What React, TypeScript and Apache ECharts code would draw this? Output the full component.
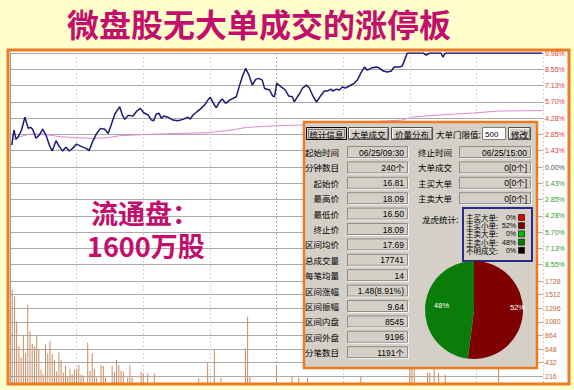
import React, { useEffect, useRef } from 'react';
import * as echarts from 'echarts';

// ---------- data ----------
const TITLE = '微盘股无大单成交的涨停板';
const FLOAT_LINE1 = '流通盘：';
const FLOAT_LINE2 = '1600万股';

const priceLimit = 9.98; // % limit, axis range ±
const minutesTotal = 240;
const minuteStep = 30;

// [minute, % change]
const pricePoints: number[][] = [
  [0.8, 1.92], [1.8, 3.24], [2.7, 2.42], [3.7, 2.65], [5.2, 3.24], [6.7, 4.35], [8.2, 3.38], [9.3, 3.47],
  [10.2, 3.3], [11.7, 2.51], [13.2, 2.8], [14.7, 3.32], [16.2, 2.8], [17.7, 1.92], [19, 1.4], [20.7, 2.3],
  [22.2, 1.78], [23.7, 1.4], [25.2, 1.72], [26.7, 1.4], [28.2, 1.63], [30, 2.01], [32.2, 1.78], [34.2, 1.63],
  [35.6, 1.43], [37.2, 2.22], [39, 2.94], [40.8, 3.38], [42.7, 3.3], [44.2, 2.94], [45.4, 3.59], [47.2, 4.64],
  [49.4, 5.28], [50.6, 4.55], [51.7, 4.17], [53.2, 4.52], [55.4, 4.46], [57.2, 4.92], [58.7, 5.13], [60.2, 4.75],
  [62.2, 4.55], [63.7, 4.11], [64.7, 4.05], [65.9, 4.64], [67.1, 4.7], [68.2, 4.26], [69.2, 4.46], [71.2, 4.35],
  [73.4, 4.11], [75.6, 4.05], [77.9, 4.17], [80.1, 4.35], [81.2, 4.2], [82.4, 4.55], [84.2, 4.84], [86.1, 5.13],
  [87.6, 5.42], [89.1, 5.86], [90.2, 6.1], [91.4, 5.63], [92.9, 5.19], [94.4, 5.71], [95.6, 5.95], [97.1, 5.57],
  [98.9, 5.86], [101.9, 6.15], [103.1, 6.97], [104.6, 7.9], [106.1, 8.63], [107.6, 8.05], [109.1, 7.17], [110.6, 7.67],
  [112, 7.76], [113.6, 7.61], [114.6, 6.88], [116.9, 6.74], [118.3, 6.21], [119.1, 6.15], [120.1, 7.32], [122.1, 7.02],
  [124, 6.74], [125.5, 6.21], [127.1, 6.15], [128, 5.71], [129.6, 6.21], [130.3, 6.39], [131.7, 6.91], [133.5, 7.17],
  [134.8, 6.91], [136.2, 6.3], [138, 5.69], [139.8, 6.21], [141.6, 6.65], [142.9, 6.65], [144.7, 6.82], [145.2, 6.65],
  [147, 6.82], [148.3, 6.74], [149.7, 7.0], [151, 6.91], [152.8, 7.09], [155.1, 7.35], [156.4, 7.61], [158.2, 8.31],
  [159.6, 8.75], [160.9, 8.48], [162.7, 8.66], [164.9, 8.75], [166.3, 8.66], [168.1, 8.4], [169.9, 8.31], [171.7, 8.4],
  [173, 8.75], [175.3, 8.75], [176.6, 8.83], [178, 9.53], [178.9, 9.98], [186, 9.98], [187.4, 9.8], [189, 9.98],
  [194, 9.98], [195, 9.62], [196, 9.98], [239.6, 9.98],
];

// [minute, % change] average price line
const avgPoints: number[][] = [
  [0.8, 2.36], [4.5, 2.65], [9, 2.89], [14.8, 2.89], [22.5, 2.65], [30.1, 2.56], [37.3, 2.51], [43.6, 2.56],
  [49.4, 2.74], [62.9, 2.86], [77.8, 2.95], [88.5, 3.0], [100.2, 3.24], [106.5, 3.47], [120, 3.61], [130.3, 3.67],
  [152.8, 3.85], [176.6, 4.11], [181.1, 4.37], [193.3, 4.55], [208.1, 4.72], [220.2, 4.9], [239.6, 4.94],
];

// [minute, volume]
const volumePoints: number[][] = [
  [1, 1590], [2, 1483], [3, 1086], [4, 688], [5, 520], [6, 872], [7, 581], [8, 1345], [9, 933], [10, 734],
  [11, 688], [12, 872], [13, 642], [14, 321], [15, 245], [16, 734], [17, 581], [18, 780], [19, 566], [20, 474],
  [21, 290], [22, 596], [23, 474], [24, 275], [25, 382], [26, 214], [27, 336], [28, 245], [29, 321], [30, 336],
  [31, 397], [32, 245], [33, 229], [35, 750], [36, 306], [37, 581], [38, 336], [39, 199], [41, 397], [42, 382],
  [43, 199], [46, 382], [47, 290], [48, 474], [49, 397], [50, 306], [51, 290], [53, 199], [54, 397], [55, 199],
  [59, 290], [60, 260], [62, 260], [65, 260], [85, 190], [89, 428], [92, 642], [95, 190], [106, 657], [107, 1162],
  [108, 205], [120, 382], [127, 214], [130, 200], [134, 195], [158, 214], [180, 600], [181, 620], [182, 520],
  [188, 275], [189, 275], [191, 500], [193, 275], [196, 245], [220, 450],
];
const volumeMax = 1728;
const volumeStep = 216;

// statistics panel
const tabLabels = ['统计信息', '大单成交', '价量分布'];
const thresholdLabel = '大单门限值:';
const thresholdValue = '500';
const modifyLabel = '修改';
const leftLabels = ['起始时间', '分钟数目', '起始价', '最高价', '最低价', '终止价', '区间均价', '总成交量', '每笔均量', '区间涨幅', '区间振幅', '区间内盘', '区间外盘', '分笔数目'];
const leftValues = ['06/25/09:30', '240个', '16.81', '18.09', '16.50', '18.09', '17.69', '17741', '14', '1.48(8.91%)', '9.64', '8545', '9196', '1191个'];
const rightLabels = ['终止时间', '大单成交', '主买大单', '主卖大单'];
const rightValues = ['06/25/15:00', '0[0个]', '0[0个]', '0[0个]'];
const dragonLabel = '龙虎统计:';
const flowLabels = ['主买大单', '主买小单', '主卖大单', '主卖小单', '不明成交'];
const flowPct = [0, 52, 0, 48, 0];

// ---------- styles ----------
const YELLOW = '#FFFFCC';
const ORANGE = '#F07A1E';
const CRIMSON = '#C40E6C';
const PANEL = '#D4D0C8';
const flowColors = ['#E00000', '#7E0000', '#00C000', '#0A7C0A', '#000000'];
const CJK = '"Noto Sans CJK SC"';
const NUM = '"Liberation Sans", "Noto Sans CJK SC"';

const PZ = 50;
function rect(x: number, y: number, w: number, h: number, style: any, z = PZ) {
  return { type: 'rect', z, silent: true, shape: { x, y, width: w, height: h }, style };
}
function seg(x1: number, y1: number, x2: number, y2: number, stroke: string, z = PZ + 1, lineWidth = 1) {
  return { type: 'line', z, silent: true, shape: { x1, y1, x2, y2 }, style: { stroke, lineWidth } };
}
function txt(text: string, x: number, y: number, font: string, fill: string, align = 'left', z = PZ + 2, lineHeight?: number, vAlign = 'middle') {
  const style: any = { text, x, y, font, fill, textAlign: align, align, textVerticalAlign: vAlign, verticalAlign: vAlign };
  if (lineHeight) style.lineHeight = lineHeight;
  return { type: 'text', z, silent: true, style };
}

function buildPanel(): any[] {
  const els: any[] = [];
  const labelFont = `8.5px ${CJK}`;
  const valueFont = `8.5px ${NUM}`;
  els.push(rect(304, 122, 233, 246, { fill: PANEL, stroke: ORANGE, lineWidth: 2.5 }));

  const button = (x: number, y: number, w: number, h: number, label: string, active: boolean) => {
    els.push(rect(x + 0.5, y + 0.5, w, h, { fill: PANEL, stroke: active ? '#000' : '#505050', lineWidth: 1 }));
    if (active) {
      els.push(rect(x + 2.5, y + 2.5, w - 4, h - 4, { fill: 'none', stroke: '#222', lineWidth: 1, lineDash: [1, 1] }, PZ + 1));
    } else {
      els.push(seg(x + 1.5, y + 1.5, x + w - 1, y + 1.5, '#ffffff'));
      els.push(seg(x + 1.5, y + 1.5, x + 1.5, y + h - 1, '#ffffff'));
      els.push(seg(x + 1.5, y + h - 0.5, x + w - 0.5, y + h - 0.5, '#8a8a8a'));
      els.push(seg(x + w - 0.5, y + 1.5, x + w - 0.5, y + h - 0.5, '#8a8a8a'));
    }
    els.push(txt(label, x + w / 2 + 0.5, y + h / 2 + 1, labelFont, '#000', 'center'));
  };
  const field = (x: number, y: number, w: number, h: number, value: string) => {
    els.push(rect(x + 0.5, y + 0.5, w, h, { fill: PANEL, stroke: '#8c8c8c', lineWidth: 1 }));
    els.push(seg(x + 1.5, y + h + 1.5, x + w + 1.5, y + h + 1.5, '#f4f4f4'));
    els.push(seg(x + w + 1.5, y + 1, x + w + 1.5, y + h + 1.5, '#f4f4f4'));
    els.push(txt(value, x + w - 3, y + h / 2 + 1, valueFont, '#000', 'right'));
  };

  const tabX = [306, 348, 391];
  const tabW = [40, 40, 41];
  tabLabels.forEach((t, i) => button(tabX[i], 127, tabW[i], 12, t, i === 0));
  els.push(txt(thresholdLabel, 436, 134, labelFont, '#000', 'left'));
  els.push(rect(482.5, 127.5, 23, 12, { fill: '#fff', stroke: '#808080', lineWidth: 1 }));
  els.push(txt(thresholdValue, 485, 134, `8px ${NUM}`, '#000', 'left'));
  button(508, 127, 22, 12, modifyLabel, false);

  const rowTop = (k: number) => 146 + k * 15.4;
  leftLabels.forEach((l, k) => {
    const top = rowTop(k);
    els.push(txt(l, 339, top + 6, labelFont, '#000', 'right'));
    field(347, top, 60, 11, leftValues[k]);
  });
  rightLabels.forEach((l, k) => {
    const top = rowTop(k);
    els.push(txt(l, 452, top + 6, labelFont, '#000', 'right'));
    field(459, top, 71, 11, rightValues[k]);
  });
  els.push(txt(dragonLabel, 422, 219, labelFont, '#000', 'left'));

  // legend box: labels and percentages as two multi-line text blocks
  const rowH = 8.2;
  const firstY = 213.4;
  els.push(rect(463, 208, 69, 53, { fill: PANEL, stroke: '#2A2A8C', lineWidth: 2 }, PZ + 3));
  els.push(txt(flowLabels.map((l) => l + ':').join('\n'), 466, firstY, `7.5px ${CJK}`, '#000', 'left', PZ + 4, rowH, 'top'));
  els.push(txt(flowPct.map((p) => p + '%').join('\n'), 516, firstY, `7px ${NUM}`, '#000', 'right', PZ + 4, rowH, 'top'));
  flowLabels.forEach((_, j) => {
    const cy = firstY + rowH / 2 + j * rowH;
    els.push(rect(518.5, cy - 3, 6, 6, { fill: flowColors[j], stroke: '#000', lineWidth: 0.6 }, PZ + 4));
  });
  return els;
}

function buildFrame(): any[] {
  const Z = 100;
  return [
    rect(0, 0, 574, 48.5, { fill: YELLOW }, Z),
    rect(0, 0, 6.5, 390, { fill: YELLOW }, Z),
    rect(570.5, 0, 4, 390, { fill: YELLOW }, Z),
    rect(0, 385.5, 574, 5, { fill: YELLOW }, Z),
    rect(8, 50, 561, 334, { fill: 'none', stroke: ORANGE, lineWidth: 3 }, Z + 1),
    txt(TITLE, 259, 23, `bold 32px ${CJK}`, CRIMSON, 'center', Z + 2, 34),
    txt(FLOAT_LINE1, 91, 212, `bold 27px ${CJK}`, CRIMSON, 'left', 40),
    txt(FLOAT_LINE2, 87, 245, `bold 27px ${CJK}`, CRIMSON, 'left', 40),
  ];
}

function buildOption(): any {
  const pStep = priceLimit / 7;
  const vColors = ['#cfcfcf', '#cfcfcf', '#cfcfcf', '#cfcfcf', '#a8a8a8', '#cfcfcf', '#cfcfcf', '#cfcfcf', '#cfcfcf'];
  const xAxisBase = {
    type: 'value', min: 0, max: minutesTotal, interval: minuteStep,
    axisLine: { show: false }, axisTick: { show: false }, axisLabel: { show: false },
    splitLine: { show: true, lineStyle: { color: vColors, width: 1, type: [2, 2] } },
  };
  const pieData = flowLabels
    .map((name, i) => ({ name, value: flowPct[i], color: flowColors[i] }))
    .filter((d) => d.value > 0)
    .map((d, idx) => ({
      name: d.name, value: d.value, itemStyle: { color: d.color },
      label: { offset: idx === 0 ? [16, -4] : [-5, -3] },
    }));
  return {
    animation: false,
    backgroundColor: '#ffffff',
    grid: [
      { left: 10, right: 31, top: 53, height: 228, show: false },
      { left: 10, right: 31, top: 281, height: 113, show: false },
    ],
    xAxis: [
      { ...xAxisBase, gridIndex: 0 },
      { ...xAxisBase, gridIndex: 1 },
    ],
    yAxis: [
      {
        type: 'value', gridIndex: 0, position: 'right', min: -priceLimit, max: priceLimit, interval: pStep,
        showMinLabel: false,
        axisLine: { show: true, lineStyle: { color: '#9a9a9a' } },
        axisTick: { show: true, length: 3, lineStyle: { color: '#9a9a9a' } },
        splitLine: { show: true, lineStyle: { color: '#ababab', width: 1 } },
        axisLabel: {
          margin: 2, fontSize: 7, fontFamily: 'Liberation Sans',
          formatter: (v: number) => (v < -priceLimit + 0.01 ? '' : Math.abs(v).toFixed(2) + '%'),
          color: (v: any) => {
            const n = parseFloat(v);
            return n > 0.001 ? '#E23B3B' : n < -0.001 ? '#2E9E2E' : '#505050';
          },
        },
      },
      {
        type: 'value', gridIndex: 1, position: 'right', min: 0, max: volumeMax, interval: volumeStep,
        showMinLabel: false,
        axisLine: { show: true, lineStyle: { color: '#9a9a9a' } },
        axisTick: { show: true, length: 3, lineStyle: { color: '#9a9a9a' } },
        splitLine: { show: true, lineStyle: { color: '#ababab', width: 1 } },
        axisLabel: {
          margin: 2, fontSize: 7, fontFamily: 'Liberation Sans', color: '#C0693A',
          formatter: (v: number) => (v <= 0 ? '' : String(Math.round(v))),
        },
      },
    ],
    series: [
      {
        type: 'bar', xAxisIndex: 1, yAxisIndex: 1, data: volumePoints, barWidth: 1, silent: true,
        itemStyle: { color: '#C98B62' }, z: 2,
      },
      {
        type: 'line', xAxisIndex: 0, yAxisIndex: 0, data: avgPoints, symbol: 'none', silent: true,
        lineStyle: { color: '#D88AD8', width: 1 }, z: 3,
      },
      {
        type: 'line', xAxisIndex: 0, yAxisIndex: 0, data: pricePoints, symbol: 'none', silent: true,
        lineStyle: { color: '#1B1B76', width: 1.5 }, z: 4,
      },
      {
        type: 'pie', center: [474, 310], radius: 49, startAngle: 90, clockwise: true, z: 60, silent: true,
        label: { show: true, position: 'inside', color: '#ffffff', fontSize: 7.5, fontFamily: 'Liberation Sans', formatter: '{c}%' },
        labelLine: { show: false },
        emphasis: { disabled: true },
        data: pieData,
      },
    ],
    graphic: [...buildPanel(), ...buildFrame()],
  };
}

export default function App() {
  const ref = useRef<HTMLDivElement>(null);
  useEffect(() => {
    document.body.style.margin = '0';
    const chart = echarts.init(ref.current!, undefined, { renderer: 'svg' });
    chart.setOption(buildOption());
    return () => chart.dispose();
  }, []);
  return <div ref={ref} style={{ width: 574, height: 390 }} />;
}
